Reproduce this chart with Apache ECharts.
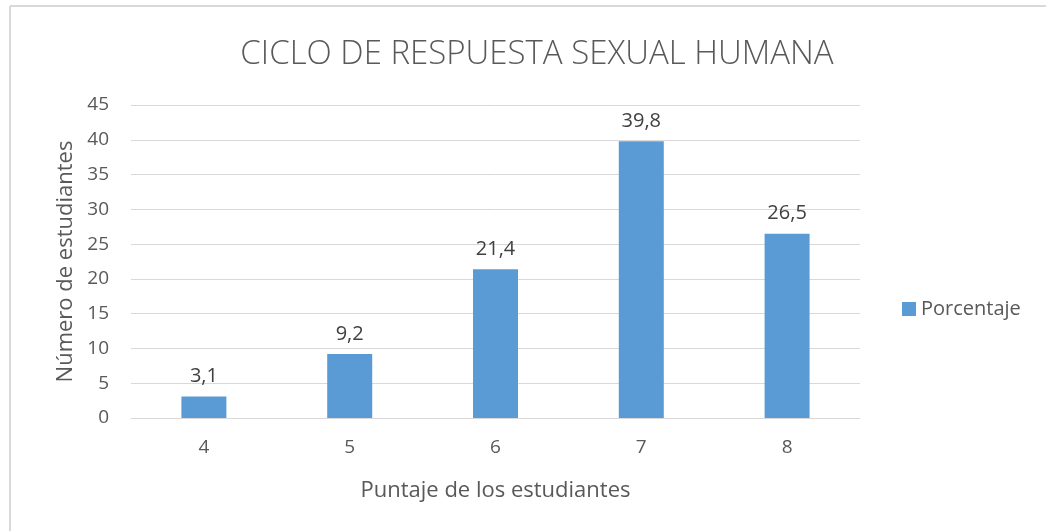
<!DOCTYPE html>
<html>
<head>
<meta charset="utf-8">
<script src="https://cdn.jsdelivr.net/npm/echarts@6/dist/echarts.min.js"></script>
<style>
  html, body { margin: 0; padding: 0; background: #fff; }
  #chart { width: 1046px; height: 531px; }
</style>
</head>
<body>
<div id="chart"></div>
<script>
const categories = ['4', '5', '6', '7', '8']
const porcentaje = [3.1, 9.2, 21.4, 39.8, 26.5]
const seriesName = 'Porcentaje'

const font = '"Open Sans", "Noto Sans", sans-serif'
const textColor = '#595959'

const chart = echarts.init(document.getElementById('chart'))
chart.setOption({
  animation: false,
  textStyle: { fontFamily: font },
  title: {
    text: 'CICLO DE RESPUESTA SEXUAL HUMANA',
    left: 532, top: 33, textAlign: 'center',
    textStyle: { fontSize: 33, fontWeight: 300, color: textColor, fontFamily: font }
  },
  // borde del área del gráfico (solo arriba e izquierda visibles)
  graphic: [
    { type: 'line', shape: { x1: 10, y1: 6, x2: 1046, y2: 6 }, style: { stroke: '#d9d9d9', lineWidth: 2 } },
    { type: 'line', shape: { x1: 10, y1: 6, x2: 10, y2: 531 }, style: { stroke: '#d9d9d9', lineWidth: 2 } }
  ],
  legend: {
    left: 897, top: 294,
    orient: 'vertical',
    icon: 'rect', itemWidth: 14, itemHeight: 14, itemGap: 8,
    textStyle: { fontSize: 20, color: textColor, fontFamily: font },
    data: [seriesName]
  },
  grid: { left: 131, right: 186, top: 105, bottom: 113 },
  xAxis: {
    type: 'category',
    data: categories,
    name: 'Puntaje de los estudiantes',
    nameLocation: 'middle', nameGap: 62,
    nameTextStyle: { fontSize: 22, color: textColor, fontFamily: font },
    axisLine: { lineStyle: { color: '#d9d9d9', width: 1 } },
    axisTick: { show: false },
    axisLabel: { fontSize: 19, color: textColor, margin: 20 }
  },
  yAxis: {
    type: 'value',
    min: 0, max: 45, interval: 5,
    name: 'Número de estudiantes',
    nameLocation: 'middle', nameGap: 54,
    nameTextStyle: { fontSize: 22, color: textColor, fontFamily: font },
    axisLine: { show: false },
    axisTick: { show: false },
    axisLabel: { fontSize: 19, color: textColor, margin: 22 },
    splitLine: { lineStyle: { color: '#d9d9d9', width: 1 } }
  },
  series: [{
    name: seriesName,
    type: 'bar',
    data: porcentaje,
    barWidth: 45,
    itemStyle: { color: '#5b9bd5' },
    label: {
      show: true, position: 'top', distance: 10,
      fontSize: 20, color: '#404040', fontFamily: font,
      formatter: (p) => String(p.value).replace('.', ',')
    }
  }]
})
</script>
</body>
</html>
